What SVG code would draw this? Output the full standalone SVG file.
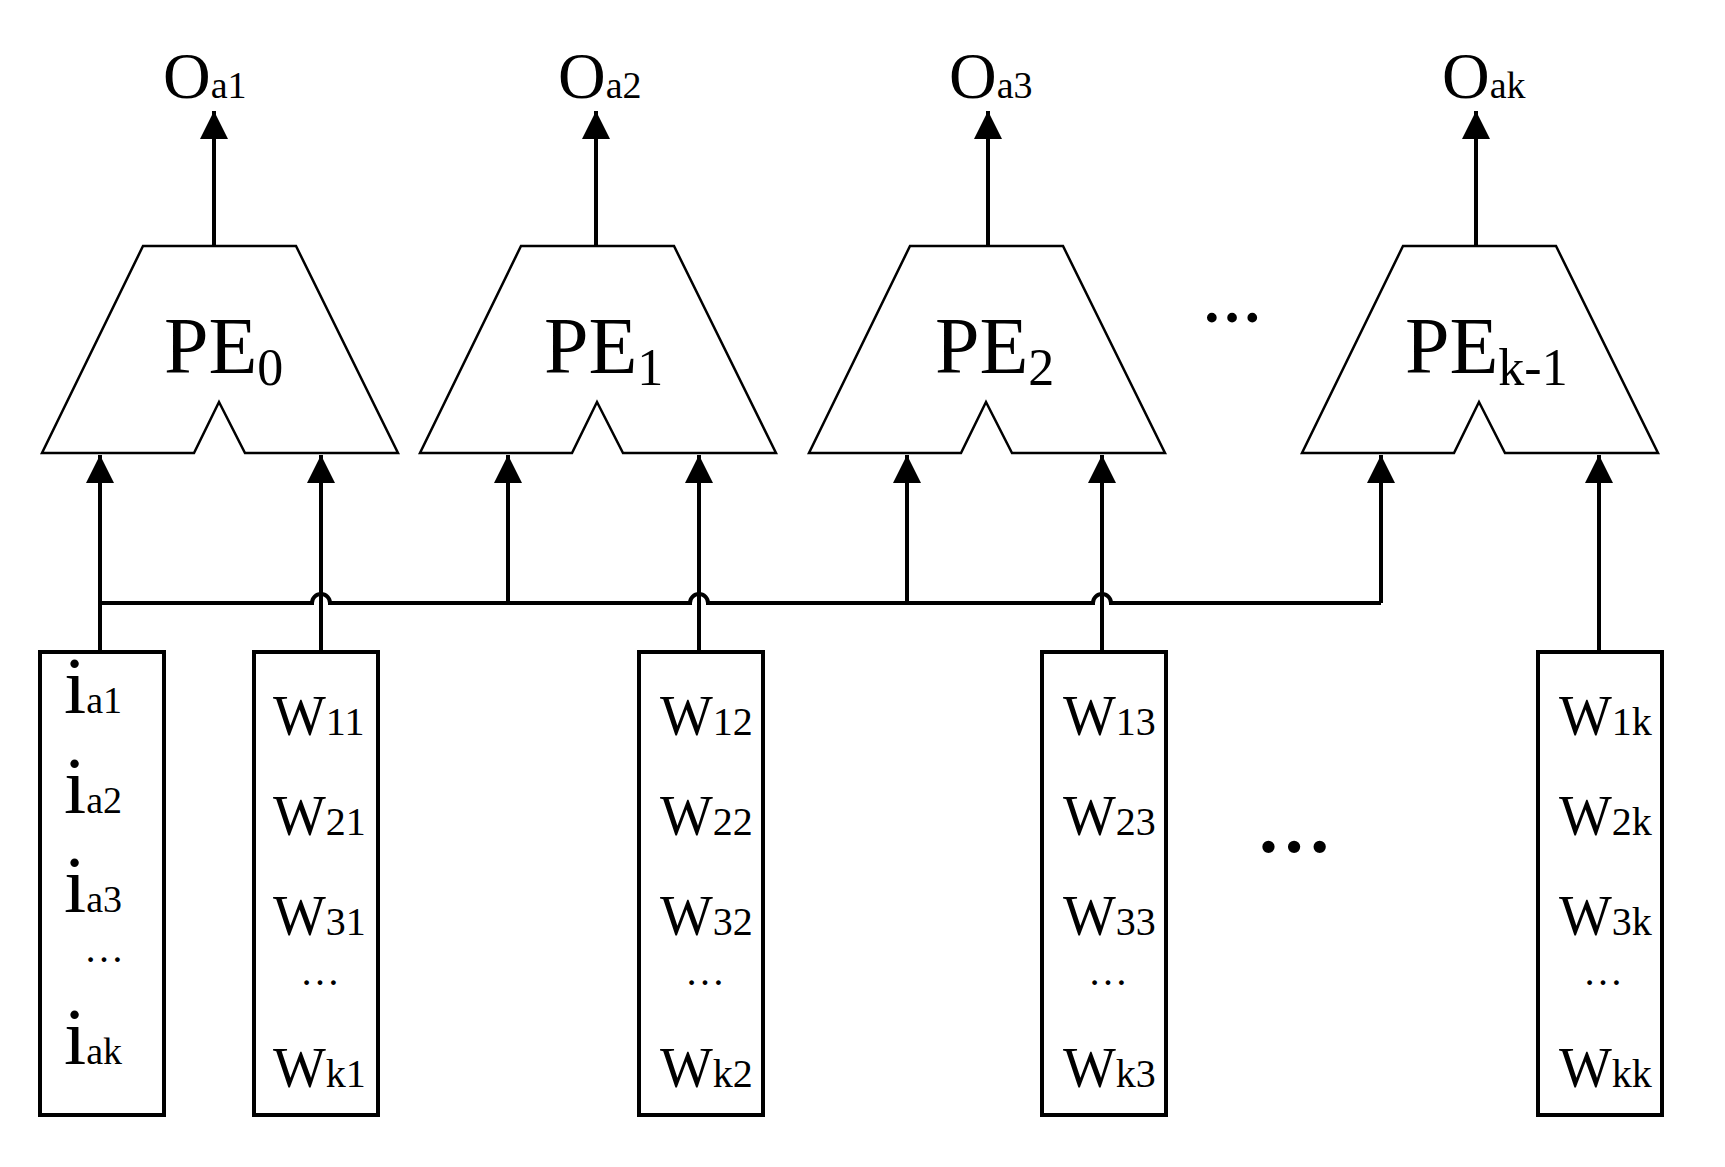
<svg xmlns="http://www.w3.org/2000/svg" width="1725" height="1167" viewBox="0 0 1725 1167">
<defs>
<marker id="ar" markerWidth="30" markerHeight="28" refX="28" refY="14" orient="auto" markerUnits="userSpaceOnUse"><path d="M0,0 L28,14 L0,28 Z" fill="#000"/></marker>
<path id="pe" d="M-77,0 L76,0 L178,207 L25,207 L-1,156 L-26,207 L-178,207 Z"/>
</defs>
<style>
.pe{fill:#fff;stroke:#000;stroke-width:2.5}
.box{fill:#fff;stroke:#000;stroke-width:4}
.ln{fill:none;stroke:#000;stroke-width:4}
text{font-family:"Liberation Serif",serif;fill:#000}
.big{font-size:66px}
.ii{font-size:80px}
.sub{font-size:38px}
.pel{font-size:80px}
.pes{font-size:52px}
.w{font-size:56px}
.ws{font-size:40px}
</style>
<rect width="1725" height="1167" fill="#fff"/>
<g id="connectors">
<path class="ln" marker-end="url(#ar)" d="M214,246 V111"/>
<path class="ln" marker-end="url(#ar)" d="M596,246 V111"/>
<path class="ln" marker-end="url(#ar)" d="M988,246 V111"/>
<path class="ln" marker-end="url(#ar)" d="M1476,246 V111"/>
<path class="ln" d="M100,603 H312 A9,9 0 0 1 330,603 H690 A9,9 0 0 1 708,603 H1093 A9,9 0 0 1 1111,603 H1381"/>
<path class="ln" marker-end="url(#ar)" d="M100,652 V455"/>
<path class="ln" marker-end="url(#ar)" d="M321,652 V455"/>
<path class="ln" marker-end="url(#ar)" d="M508,603 V455"/>
<path class="ln" marker-end="url(#ar)" d="M699,652 V455"/>
<path class="ln" marker-end="url(#ar)" d="M907,603 V455"/>
<path class="ln" marker-end="url(#ar)" d="M1102,652 V455"/>
<path class="ln" marker-end="url(#ar)" d="M1381,603 V455"/>
<path class="ln" marker-end="url(#ar)" d="M1599,652 V455"/>
</g>
<g id="outputs">
<text x="163" y="98" class="big">O<tspan class="sub">a1</tspan></text>
<text x="558" y="98" class="big">O<tspan class="sub">a2</tspan></text>
<text x="949" y="98" class="big">O<tspan class="sub">a3</tspan></text>
<text x="1442" y="98" class="big">O<tspan class="sub">ak</tspan></text>
</g>
<g id="pe0"><use href="#pe" x="220" y="246" class="pe"/><text x="164" y="373" class="pel">PE<tspan class="pes" dy="12">0</tspan></text></g>
<g id="pe1"><use href="#pe" x="598" y="246" class="pe"/><text x="544" y="373" class="pel">PE<tspan class="pes" dy="12">1</tspan></text></g>
<g id="pe2"><use href="#pe" x="987" y="246" class="pe"/><text x="935" y="373" class="pel">PE<tspan class="pes" dy="12">2</tspan></text></g>
<g id="pek"><use href="#pe" x="1480" y="246" class="pe"/><text x="1405" y="373" class="pel">PE<tspan class="pes" dy="12">k-1</tspan></text></g>
<text x="1202" y="322" style="font-size:60px;font-weight:bold">…</text>
<g id="ibox"><rect class="box" x="40" y="652" width="124" height="463"/>
<text x="64" y="713" class="ii">i<tspan class="sub">a1</tspan></text>
<text x="64" y="813" class="ii">i<tspan class="sub">a2</tspan></text>
<text x="64" y="912" class="ii">i<tspan class="sub">a3</tspan></text>
<text x="84" y="962" class="ws">…</text>
<text x="64" y="1064" class="ii">i<tspan class="sub">ak</tspan></text></g>
<g id="w1"><rect class="box" x="254" y="652" width="124" height="463"/>
<text x="273" y="735" class="w">W<tspan class="ws">11</tspan></text>
<text x="273" y="835" class="w">W<tspan class="ws">21</tspan></text>
<text x="273" y="935" class="w">W<tspan class="ws">31</tspan></text>
<text x="300" y="985" class="ws">…</text>
<text x="273" y="1087" class="w">W<tspan class="ws">k1</tspan></text></g>
<g id="w2"><rect class="box" x="639" y="652" width="124" height="463"/>
<text x="660" y="735" class="w">W<tspan class="ws">12</tspan></text>
<text x="660" y="835" class="w">W<tspan class="ws">22</tspan></text>
<text x="660" y="935" class="w">W<tspan class="ws">32</tspan></text>
<text x="685" y="985" class="ws">…</text>
<text x="660" y="1087" class="w">W<tspan class="ws">k2</tspan></text></g>
<g id="w3"><rect class="box" x="1042" y="652" width="124" height="463"/>
<text x="1063" y="735" class="w">W<tspan class="ws">13</tspan></text>
<text x="1063" y="835" class="w">W<tspan class="ws">23</tspan></text>
<text x="1063" y="935" class="w">W<tspan class="ws">33</tspan></text>
<text x="1088" y="985" class="ws">…</text>
<text x="1063" y="1087" class="w">W<tspan class="ws">k3</tspan></text></g>
<g id="wk"><rect class="box" x="1538" y="652" width="124" height="463"/>
<text x="1559" y="735" class="w">W<tspan class="ws">1k</tspan></text>
<text x="1559" y="835" class="w">W<tspan class="ws">2k</tspan></text>
<text x="1559" y="935" class="w">W<tspan class="ws">3k</tspan></text>
<text x="1583" y="985" class="ws">…</text>
<text x="1559" y="1087" class="w">W<tspan class="ws">kk</tspan></text></g>
<text x="1256" y="852" style="font-size:76px;font-weight:bold">…</text>
</svg>
